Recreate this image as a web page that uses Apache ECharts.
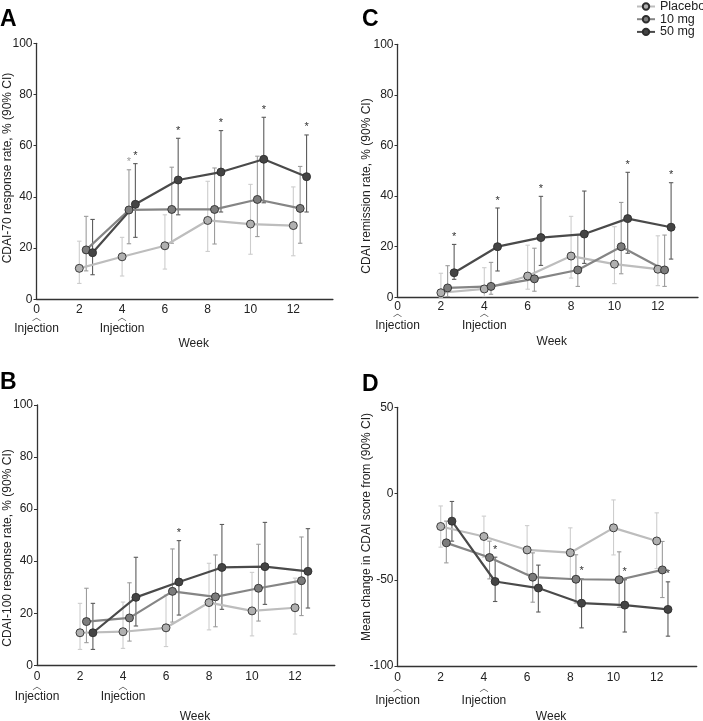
<!DOCTYPE html>
<html>
<head>
<meta charset="utf-8">
<script src="https://cdn.jsdelivr.net/npm/echarts@6/dist/echarts.min.js"></script>
<style>
html,body{margin:0;padding:0;background:#fff;}
#chart{width:703px;height:721px;}
</style>
</head>
<body>
<div id="chart"></div>
<script>
// ---------- DATA ----------
const weeks = [2, 4, 6, 8, 10, 12];
const weekTicks = [0, 2, 4, 6, 8, 10, 12];
const injectionWeeks = [0, 4];
const doses = ['Placebo', '10 mg', '50 mg'];

// Panel A: CDAI-70 response rate
const A_placebo = [12.1, 16.6, 20.9, 30.8, 29.4, 28.8];
const A_placebo_lo = [6.2, 9.1, 11.8, 18.7, 17.6, 17.0];
const A_placebo_hi = [22.7, 24.2, 33.0, 46.1, 44.9, 43.9];
const A_10 = [19.3, 34.9, 35.1, 35.1, 39.0, 35.5];
const A_10_lo = [11.1, 21.7, 21.9, 21.6, 24.5, 21.9];
const A_10_hi = [32.4, 50.6, 51.6, 51.3, 55.9, 51.9];
const A_50 = [18.2, 37.1, 46.6, 49.7, 54.7, 47.9];
const A_50_lo = [9.6, 24.2, 33.0, 34.1, 37.7, 34.1];
const A_50_hi = [31.2, 53.0, 62.9, 65.9, 71.1, 64.2];
const A_10_sig = [0, 1, 0, 0, 0, 0];
const A_50_sig = [0, 1, 1, 1, 1, 1];

// Panel B: CDAI-100 response rate
const B_placebo = [12.5, 12.9, 14.4, 24.1, 20.9, 22.1];
const B_placebo_lo = [6.1, 6.5, 7.2, 13.6, 11.3, 12.0];
const B_placebo_hi = [23.8, 24.3, 27.0, 39.2, 35.7, 33.5];
const B_10 = [16.8, 18.2, 28.4, 26.3, 29.6, 32.5];
const B_10_lo = [8.7, 9.3, 16.6, 14.8, 17.0, 19.1];
const B_10_hi = [29.6, 31.7, 44.7, 42.4, 46.5, 49.3];
const B_50 = [12.5, 26.1, 32.0, 37.6, 37.9, 36.1];
const B_50_lo = [6.1, 15.1, 19.3, 21.5, 23.4, 22.0];
const B_50_hi = [23.8, 41.5, 47.9, 54.1, 54.9, 52.5];
const B_50_sig = [0, 0, 1, 0, 0, 0];

// Panel C: CDAI remission rate
const C_placebo = [1.8, 3.3, 8.4, 16.3, 13.1, 11.1];
const C_placebo_lo = [0, 0.3, 3.2, 7.6, 5.4, 4.6];
const C_placebo_hi = [9.5, 11.7, 20.6, 32.0, 27.9, 24.3];
const C_10 = [3.7, 4.3, 7.3, 10.8, 20.0, 10.8];
const C_10_lo = [0.3, 1.2, 2.4, 4.3, 9.3, 4.3];
const C_10_hi = [12.5, 13.8, 19.4, 24.5, 37.5, 24.6];
const C_50 = [9.7, 20.0, 23.6, 25.0, 31.1, 27.7];
const C_50_lo = [7.1, 10.4, 12.6, 13.4, 17.4, 15.1];
const C_50_hi = [20.9, 35.3, 39.9, 42.0, 49.4, 45.3];
const C_50_sig = [1, 1, 1, 0, 1, 1];

// Panel D: mean change in CDAI score
const D_placebo = [-19.1, -24.9, -32.7, -34.3, -19.9, -27.5];
const D_placebo_lo = [-31.1, -36.9, -46.6, -49.6, -35.6, -43.5];
const D_placebo_hi = [-7.2, -13.1, -18.6, -19.9, -3.7, -11.2];
const D_10 = [-28.6, -37.1, -48.5, -49.7, -50.0, -44.3];
const D_10_lo = [-40.2, -49.5, -63.0, -63.5, -66.0, -60.3];
const D_10_hi = [-16.0, -27.6, -34.4, -35.5, -33.8, -27.8];
const D_50 = [-16.0, -51.0, -54.8, -63.6, -64.7, -67.2];
const D_50_lo = [-27.6, -62.6, -68.7, -77.9, -80.3, -82.7];
const D_50_hi = [-4.6, -36.9, -41.5, -49.5, -50.0, -51.2];
const D_50_sig = [0, 1, 0, 1, 1, 1];

// ---------- STYLE / LAYOUT ----------
const FONT = "'Liberation Sans', Arial, Helvetica, sans-serif";
const lineColors = ['#bdbdbd', '#858585', '#4a4a4a'];
const markerColors = ['#b0b0b0', '#7c7c7c', '#444444'];
const errColors = ['#cdcdcd', '#9c9c9c', '#5c5c5c'];
const starColors = ['#bbbbbb', '#9a9a9a', '#333333'];
const XMAX = 13.85;

const panels = [
  { letter: 'A', ytitle: 'CDAI-70 response rate, % (90% CI)',
    grid: { left: 36.5, top: 43.3, width: 296.4, height: 256 },
    ymin: 0, ymax: 100, yint: 20, offsets: [0, 0.32, 0.62],
    tickDy: 10.5, caretDy: 17.5, injDy: 29,
    weekDy: 44.5, weekDx: 9, letterPos: [0, 8], ytitlePos: [8, 168],
    series: [
      { mean: A_placebo, lo: A_placebo_lo, hi: A_placebo_hi, sig: null },
      { mean: A_10, lo: A_10_lo, hi: A_10_hi, sig: A_10_sig },
      { mean: A_50, lo: A_50_lo, hi: A_50_hi, sig: A_50_sig } ] },
  { letter: 'B', ytitle: 'CDAI-100 response rate, % (90% CI)',
    grid: { left: 37, top: 405, width: 297.8, height: 260.3 },
    ymin: 0, ymax: 100, yint: 20, offsets: [0, 0.3, 0.6],
    tickDy: 11.3, caretDy: 20.5, injDy: 31.5,
    weekDy: 51.5, weekDx: 9, letterPos: [0, 371], ytitlePos: [8, 548],
    series: [
      { mean: B_placebo, lo: B_placebo_lo, hi: B_placebo_hi, sig: null },
      { mean: B_10, lo: B_10_lo, hi: B_10_hi, sig: null },
      { mean: B_50, lo: B_50_lo, hi: B_50_hi, sig: B_50_sig } ] },
  { letter: 'C', ytitle: 'CDAI remission rate, % (90% CI)',
    grid: { left: 397.5, top: 44.3, width: 300.5, height: 253 },
    ymin: 0, ymax: 100, yint: 20, offsets: [0, 0.31, 0.61],
    tickDy: 9, caretDy: 15.5, injDy: 28,
    weekDy: 44, weekDx: 4, letterPos: [362, 8], ytitlePos: [367, 186],
    series: [
      { mean: C_placebo, lo: C_placebo_lo, hi: C_placebo_hi, sig: null },
      { mean: C_10, lo: C_10_lo, hi: C_10_hi, sig: null },
      { mean: C_50, lo: C_50_lo, hi: C_50_hi, sig: C_50_sig } ] },
  { letter: 'D', ytitle: 'Mean change in CDAI score from (90% CI)',
    grid: { left: 397.5, top: 407.3, width: 299.2, height: 258.7 },
    ymin: -100, ymax: 50, yint: 50, offsets: [0, 0.26, 0.52],
    tickDy: 11.3, caretDy: 21.5, injDy: 35,
    weekDy: 51, weekDx: 4, letterPos: [362, 373], ytitlePos: [367, 527],
    series: [
      { mean: D_placebo, lo: D_placebo_lo, hi: D_placebo_hi, sig: null },
      { mean: D_10, lo: D_10_lo, hi: D_10_hi, sig: null },
      { mean: D_50, lo: D_50_lo, hi: D_50_hi, sig: D_50_sig } ] }
];

// ---------- BUILD ----------
const grids = [], xAxes = [], yAxes = [], series = [], graphics = [];

panels.forEach((p, idx) => {
  grids.push(Object.assign({ containLabel: false }, p.grid));
  xAxes.push({
    type: 'value', gridIndex: idx, min: 0, max: XMAX, interval: 2,
    axisLine: { show: true, onZero: false, lineStyle: { color: '#333', width: 1.3 } },
    axisTick: { show: false },
    splitLine: { show: false },
    axisLabel: { show: false }
  });
  yAxes.push({
    type: 'value', gridIndex: idx, min: p.ymin, max: p.ymax, interval: p.yint,
    axisLine: { show: true, lineStyle: { color: '#333', width: 1.3 } },
    axisTick: { show: true, length: 3, lineStyle: { color: '#333' } },
    splitLine: { show: false },
    axisLabel: { fontFamily: FONT, fontSize: 12, color: '#222', margin: 4 }
  });

  p.series.forEach((s, k) => {
    const off = p.offsets[k];
    series.push({
      type: 'custom', name: doses[k] + ' CI', xAxisIndex: idx, yAxisIndex: idx, z: 1,
      silent: true, animation: false,
      data: weeks.map((w, i) => [w + off, s.lo[i], s.hi[i], s.sig ? s.sig[i] : 0]),
      encode: { x: 0, y: [1, 2] },
      renderItem: function (params, api) {
        const x = api.value(0);
        const lo = api.coord([x, api.value(1)]);
        const hi = api.coord([x, api.value(2)]);
        const cw = 2.2;
        const st = { stroke: errColors[k], lineWidth: 1.1 };
        const children = [
          { type: 'line', shape: { x1: lo[0], y1: lo[1], x2: hi[0], y2: hi[1] }, style: st },
          { type: 'line', shape: { x1: hi[0] - cw, y1: hi[1], x2: hi[0] + cw, y2: hi[1] }, style: st },
          { type: 'line', shape: { x1: lo[0] - cw, y1: lo[1], x2: lo[0] + cw, y2: lo[1] }, style: st }
        ];
        if (api.value(3)) {
          children.push({ type: 'text', x: hi[0], y: hi[1] - 2,
            style: { text: '*', fontFamily: FONT, fontSize: 11, fill: starColors[k],
                     align: 'center', verticalAlign: 'bottom' } });
        }
        return { type: 'group', children: children };
      }
    });
    series.push({
      type: 'line', name: doses[k], xAxisIndex: idx, yAxisIndex: idx, z: 3,
      animation: false,
      data: weeks.map((w, i) => [w + off, s.mean[i]]),
      symbol: 'circle', symbolSize: 8,
      lineStyle: { color: lineColors[k], width: 2.2 },
      itemStyle: { color: markerColors[k], borderColor: '#2e2e2e', borderWidth: 0.9 }
    });
  });
});

const chart = echarts.init(document.getElementById('chart'), null, { renderer: 'canvas' });
chart.setOption({
  backgroundColor: '#fff',
  animation: false,
  grid: grids, xAxis: xAxes, yAxis: yAxes, series: series,
  legend: {
    data: doses.map(d => ({ name: d })), orient: 'vertical', left: 636, top: 0,
    padding: 0, itemWidth: 18, itemHeight: 8, itemGap: -0.3,
    textStyle: { fontFamily: FONT, fontSize: 12.5, color: '#222' }
  }
});

// Panel letters, titles, week tick labels, "Week" and injection markers
// (x positions come from each x axis' scale via convertToPixel)
panels.forEach((p, idx) => {
  graphics.push({ type: 'text', x: p.letterPos[0], y: p.letterPos[1],
    style: { text: p.letter, font: 'bold 23px ' + FONT, fill: '#000' } });
  graphics.push({ type: 'text', x: p.ytitlePos[0], y: p.ytitlePos[1], rotation: Math.PI / 2,
    style: { text: p.ytitle, fontFamily: FONT, fontSize: 12, fill: '#222', align: 'center', verticalAlign: 'middle' } });
  const axisY = p.grid.top + p.grid.height;
  weekTicks.forEach(w => {
    const px = chart.convertToPixel({ xAxisIndex: idx }, w);
    graphics.push({ type: 'text', x: px, y: axisY + p.tickDy,
      style: { text: String(w), fontFamily: FONT, fontSize: 12, fill: '#222', align: 'center', verticalAlign: 'middle' } });
  });
  const midX = chart.convertToPixel({ xAxisIndex: idx }, XMAX / 2);
  graphics.push({ type: 'text', x: midX + p.weekDx, y: axisY + p.weekDy,
    style: { text: 'Week', fontFamily: FONT, fontSize: 12, fill: '#222', align: 'center', verticalAlign: 'middle' } });
  injectionWeeks.forEach(w => {
    const px = chart.convertToPixel({ xAxisIndex: idx }, w);
    graphics.push({ type: 'text', x: px, y: axisY + p.caretDy,
      style: { text: '︿', fontFamily: "'Noto Sans CJK SC', sans-serif", fontSize: 9, fill: '#444',
               align: 'center', verticalAlign: 'middle' } });
    graphics.push({ type: 'text', x: px, y: axisY + p.injDy,
      style: { text: 'Injection', fontFamily: FONT, fontSize: 12, fill: '#222',
               align: 'center', verticalAlign: 'middle' } });
  });
});
chart.setOption({ graphic: graphics });
</script>
</body>
</html>
